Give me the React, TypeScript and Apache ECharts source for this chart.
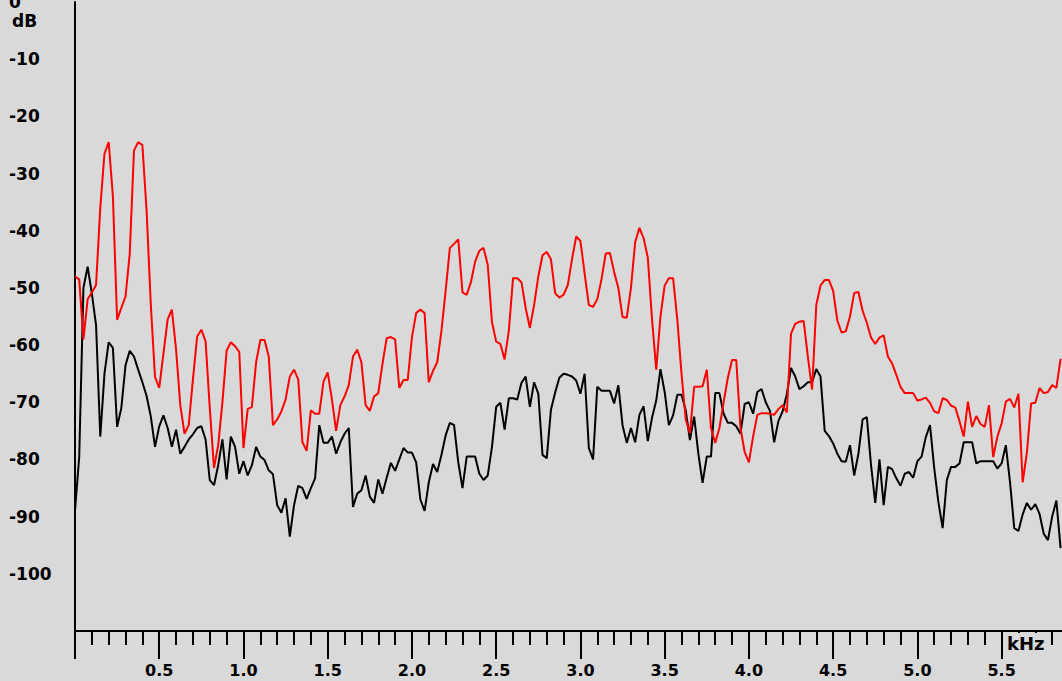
import React, { useEffect, useRef } from "react";
import * as echarts from "echarts";

// Frequency grid step (kHz) of the sampled spectra
const FREQ_STEP = 0.025;

// Upper (red) spectrum, dB
const RED_DB = [
  -48, -48.5, -59, -52, -50.8, -49.5, -36, -26.5, -24.5, -34,
  -55.6, -53.5, -51.5, -44, -26, -24.5, -25, -36.5, -53, -65.6,
  -67.5, -61.5, -55.5, -53.8, -60.8, -70.5, -75.5, -74, -66, -58.5,
  -57.3, -59.3, -71, -81.5, -77.5, -70, -61, -59.5, -60.2, -61.2,
  -78, -71.2, -70.8, -63, -59.1, -59.1, -62, -74, -73, -71.6,
  -69.5, -65.5, -64.3, -66, -77, -78.5, -71.4, -72, -72, -66.4,
  -64.8, -69.5, -75, -70.5, -69, -67, -62, -60.8, -63, -70.5,
  -71.5, -69, -68.4, -63.3, -58.8, -58.6, -59, -67.5, -66.1, -66.1,
  -58.6, -54.4, -53.8, -54.4, -66.5, -64.5, -63, -57.5, -50.5, -43,
  -42.3, -41.5, -50.8, -51.2, -49, -45.4, -43.5, -43, -46, -56,
  -59.4, -59.8, -62.5, -57.5, -48.3, -48.3, -49, -53.5, -57, -53,
  -48, -44.3, -43.7, -45, -50.9, -51.7, -51.2, -49.5, -45, -41,
  -41.8, -47.5, -53, -53.3, -52, -48.5, -44, -43.9, -47.2, -50,
  -55.1, -55.2, -50, -42, -39.5, -41.3, -44.7, -55.5, -64.3, -55,
  -49.6, -48.3, -48.3, -55.5, -65, -73, -75.4, -67.3, -67.3, -67.2,
  -64.3, -74.5, -77.1, -74.5, -70, -65.7, -62.6, -62.6, -74.5, -78.7,
  -80.5, -76, -72.2, -71.9, -71.9, -72, -72.2, -71.2, -70.5, -71.8,
  -58, -56.3, -55.9, -55.8, -62, -67.8, -53, -49.6, -48.6, -48.6,
  -50.5, -55.7, -57.8, -57.6, -55, -50.9, -50.7, -54, -56.1, -58.7,
  -59.8, -58.7, -58.3, -62, -63.2, -65.2, -67.3, -68.4, -68.4, -68.4,
  -69.7, -69.5, -69.2, -70.1, -71.6, -71.9, -69.3, -69.6, -70.6, -70.9,
  -73.3, -76, -69.9, -74.3, -72.4, -73.8, -74.3, -70.5, -79.6, -76,
  -73.7, -69.9, -69.4, -70.9, -68.5, -84, -78.8, -70.2, -70.1, -67.5,
  -68.4, -68.2, -67, -67.5, -62.4,
];

// Lower (black) spectrum, dB
const BLACK_DB = [
  -89, -79.5, -50, -46.3, -51, -56.5, -76, -65, -59.5, -60.5,
  -74.3, -71, -63.5, -61, -62, -64.3, -66.5, -68.9, -72.5, -77.8,
  -74.2, -72.3, -74.5, -77.8, -74.8, -79, -77.8, -76.5, -75.6, -74.5,
  -74.2, -76.5, -83.6, -84.5, -81, -76.5, -83.5, -76, -77.8, -82.5,
  -80.3, -82.8, -81, -77.8, -79.5, -80.1, -81.9, -82.6, -88, -89.3,
  -86.8, -93.5, -88, -84.6, -85, -86.9, -85, -83.3, -74, -77.1,
  -77.1, -76, -79, -77, -75.5, -74.5, -88.3, -86, -85.4, -82.8,
  -86.5, -87.6, -83.5, -86, -83.2, -80.6, -82, -80, -78, -78.8,
  -78.8, -80.5, -87, -89, -84, -80.8, -82.2, -79.2, -75.8, -73.6,
  -74, -80.5, -85, -79.5, -79.5, -79.5, -82.5, -83.6, -82.8, -77.8,
  -70.8, -70.1, -74.8, -69.3, -69.3, -69.5, -66.6, -65.5, -70.8, -66.5,
  -68.5, -79.2, -79.8, -71.3, -68.3, -65.7, -65, -65.2, -65.5, -66.2,
  -68.5, -65, -78, -80, -67.3, -68, -68, -68, -70.2, -67,
  -74, -77.1, -74.5, -77, -72.2, -70.7, -76.8, -72.7, -69.7, -64.2,
  -68.2, -74, -72.3, -68.7, -68.7, -71.4, -76.6, -72.5, -79, -84.1,
  -79.5, -79.5, -68.4, -68.4, -72, -73.6, -73.6, -74.2, -75.5, -70.3,
  -70, -72, -68.2, -67.7, -70, -71.5, -77, -73.3, -71.6, -68.6,
  -64, -65.5, -67.7, -67.2, -66.5, -66.5, -64.2, -65.5, -75, -75.9,
  -77.2, -79, -80.3, -80.4, -77.5, -82.8, -79, -73, -72.6, -81,
  -87.6, -80, -88, -81.3, -81.7, -83.3, -84.6, -82.5, -82.2, -83.2,
  -80.3, -79.5, -76.1, -74, -81.5, -87.5, -92, -83.6, -81.3, -81.3,
  -80.7, -77, -77, -77, -80.7, -80.3, -80.3, -80.3, -80.3, -81.6,
  -80.7, -77.5, -84, -92, -92.5, -89.6, -87.6, -88.8, -87.8, -89.5,
  -93, -94.1, -90, -87.2, -95.5,
];

// Tick labels
const X_LABELS = ["0.5", "1.0", "1.5", "2.0", "2.5", "3.0", "3.5", "4.0", "4.5", "5.0", "5.5"];
const Y_LABELS = ["0", "-10", "-20", "-30", "-40", "-50", "-60", "-70", "-80", "-90", "-100"];
const Y_UNIT = "dB";
const X_UNIT = "kHz";

const BG = "#d9d9d9";
const FONT = '"DejaVu Sans", sans-serif';

export default function App() {
  const ref = useRef<HTMLDivElement>(null);

  useEffect(() => {
    document.body.style.margin = "0";
    const chart = echarts.init(ref.current!, null, { renderer: "svg" });
    const toPairs = (arr: number[]) => arr.map((v, i) => [i * FREQ_STEP, v]);

    const xLabel = (v: number) => {
      const k = Math.round(v / 0.5);
      if (Math.abs(v - k * 0.5) < 1e-6 && k >= 1 && k <= X_LABELS.length) return X_LABELS[k - 1];
      return "";
    };
    const yLabel = (v: number) => {
      const k = Math.round(-v / 10);
      if (k >= 0 && k < Y_LABELS.length) return Y_LABELS[k];
      return "";
    };

    chart.setOption({
      animation: false,
      backgroundColor: BG,
      grid: { left: 75, right: -7, top: 2, bottom: 50, containLabel: false, outerBoundsMode: "none" },
      xAxis: [
        {
          type: "value",
          min: 0,
          max: 5.9,
          interval: 0.1,
          position: "bottom",
          axisLine: { show: true, onZero: false, lineStyle: { color: "#000", width: 2 } },
          axisTick: { show: true, length: 14, lineStyle: { color: "#000", width: 2 } },
          axisLabel: { show: false },
          splitLine: { show: false },
        },
        {
          type: "value",
          min: 0,
          max: 5.9,
          interval: 0.5,
          position: "bottom",
          axisLine: { show: false, onZero: false },
          axisTick: { show: true, length: 28, lineStyle: { color: "#000", width: 2 } },
          axisLabel: {
            show: true,
            margin: 31,
            color: "#000",
            fontWeight: "bold",
            fontSize: 16,
            lineHeight: 17,
            fontFamily: FONT,
            verticalAlign: "top",
            formatter: xLabel,
          },
          splitLine: { show: false },
        },
      ],
      yAxis: {
        type: "value",
        min: -110,
        max: 0,
        interval: 10,
        axisLine: { show: true, onZero: false, lineStyle: { color: "#000", width: 2 } },
        axisTick: { show: false },
        axisLabel: {
          show: true,
          margin: 66,
          align: "left",
          color: "#000",
          fontWeight: "bold",
          fontSize: 17,
          fontFamily: FONT,
          formatter: yLabel,
        },
        splitLine: { show: false },
      },
      series: [
        {
          type: "line",
          xAxisIndex: 0,
          data: toPairs(BLACK_DB),
          showSymbol: false,
          lineStyle: { color: "#000", width: 2 },
          itemStyle: { color: "#000" },
          z: 2,
        },
        {
          type: "line",
          xAxisIndex: 0,
          data: toPairs(RED_DB),
          showSymbol: false,
          lineStyle: { color: "#ff0000", width: 2 },
          itemStyle: { color: "#ff0000" },
          z: 3,
        },
      ],
      graphic: [
        {
          type: "text",
          left: 12,
          top: 12,
          z: 100,
          style: { text: Y_UNIT, font: `bold 17px ${FONT}`, fill: "#000" },
        },
        {
          type: "rect",
          z: 99,
          shape: { x: 1005, y: 633, width: 44, height: 22 },
          style: { fill: BG },
        },
        {
          type: "text",
          left: 1007,
          top: 634,
          z: 100,
          style: { text: X_UNIT, font: `bold 18px ${FONT}`, fill: "#000" },
        },
      ],
    });

    return () => chart.dispose();
  }, []);

  return (
    <div
      ref={ref}
      style={{ position: "fixed", left: 0, top: 0, width: 1062, height: 681, background: BG }}
    />
  );
}
